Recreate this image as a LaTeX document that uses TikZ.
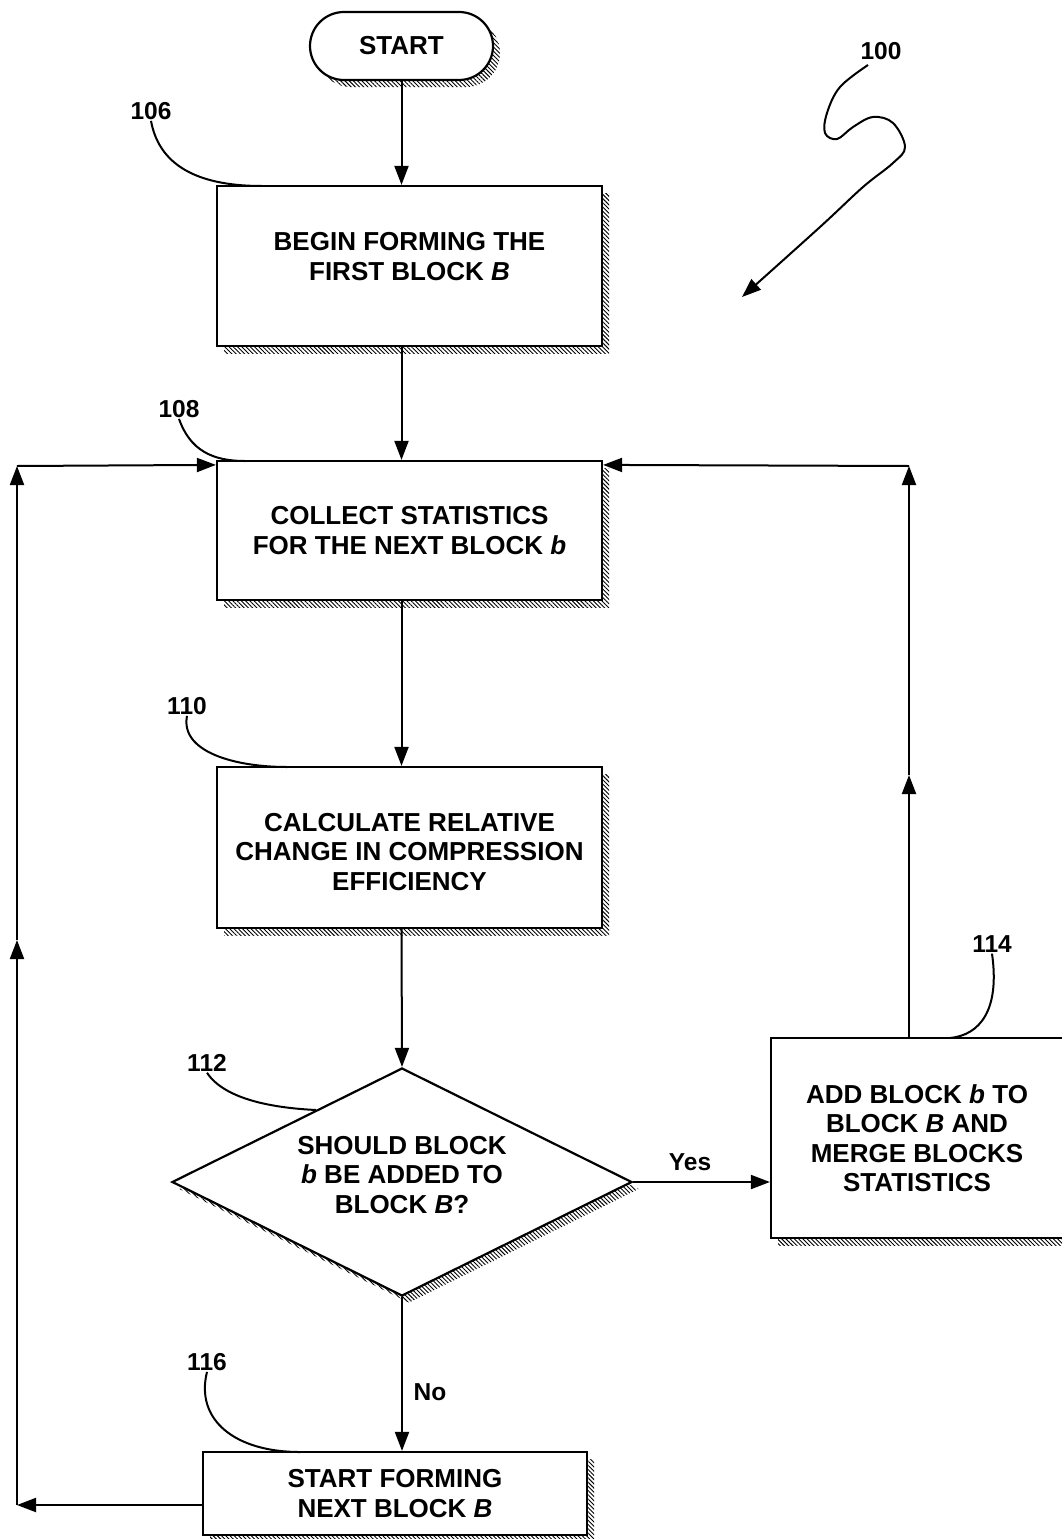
\documentclass[tikz,border=0pt]{standalone}
\usepackage{fontspec}
\setmainfont{Liberation Sans}
\usetikzlibrary{shapes.geometric,patterns.meta,arrows.meta}
\begin{document}
\begin{tikzpicture}[x=1pt,y=-1pt,
  font=\fontsize{26}{29.5}\selectfont\bfseries,
  shad/.style={preaction={draw=none,pattern={Lines[angle=-45,distance=3pt,line width=0.9pt]},transform canvas={xshift=7pt,yshift=-7pt}}},
  box/.style={draw,line width=2.2pt,fill=white,shad,align=center,inner sep=0pt},
  arr/.style={line width=2pt,-{Triangle[length=19pt,width=14pt]}},
  lead/.style={line width=2pt},
  num/.style={font=\fontsize{24.5}{28}\selectfont\bfseries,inner sep=1pt}]
\useasboundingbox (0,0) rectangle (1061,1539);
% nodes
\node[box,rounded corners=34pt,minimum width=183pt,minimum height=68pt] (start) at (401.5,46) {START};
\node[box,minimum width=385pt,minimum height=160pt] (n106) at (409.5,266) {BEGIN FORMING THE\\FIRST BLOCK \textit{B}\\[-10pt]\mbox{}};
\node[box,minimum width=385pt,minimum height=139pt] (n108) at (409.5,530.5) {COLLECT STATISTICS\\FOR THE NEXT BLOCK \textit{b}};
\node[box,minimum width=385pt,minimum height=161pt] (n110) at (409.5,847.5) {CALCULATE RELATIVE\\CHANGE IN COMPRESSION\\EFFICIENCY\\[-38pt]\mbox{}};
\node[box,diamond,aspect=2,minimum width=460pt,minimum height=228pt] (n112) at (402,1182) {SHOULD BLOCK\\\textit{b} BE ADDED TO\\BLOCK \textit{B}?\\[-15pt]\mbox{}};
\node[box,minimum width=292pt,minimum height=200pt] (n114) at (917,1138) {ADD BLOCK \textit{b} TO\\BLOCK \textit{B} AND\\MERGE BLOCKS\\STATISTICS};
\node[box,minimum width=384pt,minimum height=83pt] (n116) at (395,1493.5) {START FORMING\\NEXT BLOCK \textit{B}};
% labels
\node[num] (l100) at (881,51) {100};
\node[num] (l106) at (151,111) {106};
\node[num] (l108) at (179,409) {108};
\node[num] (l110) at (187,706) {110};
\node[num] (l112) at (207,1063) {112};
\node[num] (l114) at (992,944) {114};
\node[num] (l116) at (207,1362) {116};
\node[num] (yes) at (690,1162) {Yes};
\node[num] (no) at (430,1392) {No};
% main flow
\draw[arr] (start.south) -- (start.south |- n106.north);
\draw[arr] (n106.south -| start) -- (n108.north -| start);
\draw[arr] (n108.south -| start) -- (n110.north -| start);
\draw[arr] (n110.south -| start) -- (n112.north);
\draw[arr] (n112.south) -- (n116.north -| n112.south);
\draw[arr] (n112.east) -- (n114.west |- n112.east);
% loop right
\coordinate (R1) at (909,775);
\coordinate (R2) at (909,466);
\draw[arr] ([xshift=-8pt]n114.north) -- (R1);
\draw[arr] (R1) -- (R2);
\draw[arr] (R2) -- ([yshift=-5pt]n108.north east);
% loop left
\coordinate (L1) at (17,1505);
\coordinate (L2) at (17,940);
\coordinate (L3) at (17,466);
\draw[arr] ([yshift=-11.5pt]n116.west) -- (L1);
\draw[arr] (L1) -- (L2);
\draw[arr] (L2) -- (L3);
\draw[arr] (L3) -- ([yshift=-5pt]n108.north west);
% leaders
\draw[lead] (l106.south) .. controls (160,170) and (205,186) .. (262,186);
\draw[lead] (l108.south) .. controls (190,450) and (212,461) .. (245,461);
\draw[lead] (l110.south) .. controls (180,752) and (235,767) .. (287,767);
\draw[lead] (l112.south) .. controls (225,1100) and (275,1108) .. (316,1110);
\draw[lead] (l114.south) .. controls (1000,1010) and (980,1035) .. (950,1038);
\draw[lead] (l116.south) .. controls (195,1420) and (235,1452) .. (300,1452);
\draw[lead,-{Triangle[length=19pt,width=14pt]}] plot[smooth,tension=0.6] coordinates {(868,65) (840,87) (827,113) (825,133) (837,139) (853,127) (873,117) (893,123) (905,147) (893,163) (863,187) (820,227) (742,297)};
\end{tikzpicture}
\end{document}
